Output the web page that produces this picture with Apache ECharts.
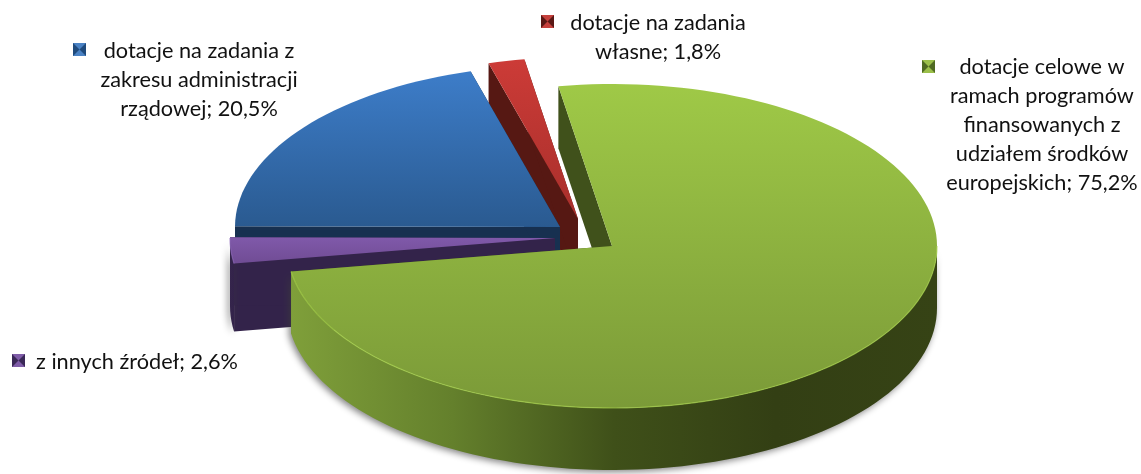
<!DOCTYPE html>
<html>
<head>
<meta charset="utf-8">
<title>dotacje</title>
<style>
html, body { margin: 0; padding: 0; background: #fff; }
#main { width: 1141px; height: 474px; }
</style>
<script src="https://cdn.jsdelivr.net/npm/echarts@6/dist/echarts.min.js"></script>
</head>
<body>
<div id="main"></div>
<script>
// dane, kolejnosc jak na kole (zgodnie z ruchem wskazowek)
var categories = [
    'dotacje celowe w\nramach programów\nfinansowanych z\nudziałem środków\neuropejskich',
    'z innych źródeł',
    'dotacje na zadania z\nzakresu administracji\nrządowej',
    'dotacje na zadania\nwłasne'
];
var values = [75.2, 2.6, 20.5, 1.8];

var myChart = echarts.init(document.getElementById('main'));

var startAngle = 350.5;
var rx = 325, ry = 162;
var total = values.reduce(function (a, b) { return a + b; }, 0);

// wyglad kazdego kawalka: srodek po wysunieciu, grubosc i kolory
var looks = [
    { cx: 612, cy: 246, depth: 62, top: ['#9fc947', '#7b9a38'], wall: '#40511b', rim: '#a5d04a',
      side: ['#7f9f3a', '#64802c', '#3f5019', '#333f14', '#364315'], key: ['#9bbf4a', '#4f6a22'] },
    { cx: 555, cy: 238, depth: 68, top: ['#8059aa', '#704c94'], wall: '#33234a', rim: '#8f69ba',
      side: ['#35254c', '#33234a'], key: ['#7f5ca8', '#3a2857'] },
    { cx: 560, cy: 227, depth: 62, top: ['#3d7dc9', '#2a5a90'], wall: '#173050', rim: '#3d7dc9',
      side: ['#173050', '#173050'], key: ['#4a82c4', '#1f4a7c'] },
    { cx: 578, cy: 219, depth: 62, top: ['#cc3b37', '#a82f2b'], wall: '#561813', rim: '#cc3b37',
      side: ['#561813', '#561813'], key: ['#c5403c', '#5a1815'] }
];

// rysujemy od tylu: czerwony, niebieski, fioletowy, zielony
var drawOrder = [3, 2, 1, 0];

function sliceAngles(i) {
    var a = startAngle;
    for (var k = 0; k < i; k++) {
        a += values[k] / total * 360;
    }
    return [a, a + values[i] / total * 360];
}

function pt(look, deg, dy) {
    var r = deg * Math.PI / 180;
    return [look.cx + Math.sin(r) * rx, look.cy - Math.cos(r) * ry + (dy || 0)];
}

function arcPoints(look, a0, a1, dy) {
    var pts = [];
    var n = Math.max(2, Math.ceil(Math.abs(a1 - a0) / 2));
    for (var i = 0; i <= n; i++) {
        pts.push(pt(look, a0 + (a1 - a0) * i / n, dy));
    }
    return pts;
}

function gradV(c) {
    return new echarts.graphic.LinearGradient(0, 0, 0, 1, [
        { offset: 0, color: c[0] }, { offset: 1, color: c[1] }
    ]);
}

function gradH(c) {
    return new echarts.graphic.LinearGradient(0, 0, 1, 0, c.map(function (col, i) {
        return { offset: i / (c.length - 1), color: col };
    }));
}

function renderItem(params, api) {
    var i = drawOrder[params.dataIndex];
    var look = looks[i];
    var depth = look.depth;
    var ang = sliceAngles(i);
    var a0 = ang[0], a1 = ang[1];
    var apex = [look.cx, look.cy];
    var apexLow = [look.cx, look.cy + depth];
    var children = [];

    // sciana promienia na poczatku kawalka
    children.push({
        type: 'polygon',
        shape: { points: [apex, pt(look, a0), pt(look, a0, depth), apexLow] },
        style: { fill: look.wall }
    });
    // sciana promienia na koncu kawalka
    children.push({
        type: 'polygon',
        shape: { points: [apex, pt(look, a1), pt(look, a1, depth), apexLow] },
        style: { fill: look.wall }
    });

    // zewnetrzna sciana, widoczna tylko w dolnej polowie elipsy (katy liczone od startAngle, wiec +360)
    var lo = Math.max(a0, 450), hi = Math.min(a1, 630);
    if (hi > lo) {
        var upper = arcPoints(look, lo, hi, 0);
        var lower = arcPoints(look, hi, lo, depth);
        children.push({
            type: 'polygon',
            shape: { points: upper.concat(lower) },
            style: {
                fill: gradH(look.side),
                shadowBlur: 7,
                shadowColor: 'rgba(60,60,60,0.65)',
                shadowOffsetX: -2,
                shadowOffsetY: 2
            }
        });
    }

    // wierzch
    children.push({
        type: 'polygon',
        shape: { points: [apex].concat(arcPoints(look, a0, a1, 0)) },
        style: { fill: gradV(look.top) }
    });

    // jasna krawedz wierzchu
    if (hi > lo) {
        children.push({
            type: 'polyline',
            shape: { points: arcPoints(look, lo, hi, 0) },
            style: { fill: null, stroke: look.rim, lineWidth: 1.2, opacity: 0.7 }
        });
    }

    return { type: 'group', children: children };
}

// opisy: pozycja tekstu i kwadracika
var labelPlaces = [
    { x: 1042, y: 53, key: [922, 60] },
    { x: 137, y: 348, key: [12, 354] },
    { x: 199, y: 37, key: [73, 43] },
    { x: 658, y: 9, key: [541, 15] }
];

function labelText(i) {
    return categories[i] + '; ' + String(values[i]).replace('.', ',') + '%';
}

function keyElements(i) {
    var p = labelPlaces[i].key, s = 13, c = looks[i].key;
    return [{
        type: 'rect',
        shape: { x: p[0], y: p[1], width: s, height: s },
        style: { fill: c[0] }
    }, {
        type: 'polygon',
        shape: { points: [[p[0], p[1]], [p[0] + s / 2, p[1] + s / 2], [p[0], p[1] + s]] },
        style: { fill: c[1] }
    }, {
        type: 'polygon',
        shape: { points: [[p[0] + s, p[1]], [p[0] + s / 2, p[1] + s / 2], [p[0] + s, p[1] + s]] },
        style: { fill: c[1] }
    }];
}

var labelElements = [];
categories.forEach(function (c, i) {
    labelElements = labelElements.concat(keyElements(i));
    labelElements.push({
        type: 'text',
        x: labelPlaces[i].x,
        y: labelPlaces[i].y,
        style: {
            text: labelText(i),
            fill: '#111',
            font: '21.7px Lato',
            align: 'center',
            verticalAlign: 'top',
            lineHeight: 29
        }
    });
});

var option = {
    backgroundColor: '#fff',
    animation: false,
    graphic: { elements: labelElements },
    series: [{
        type: 'custom',
        coordinateSystem: 'none',
        silent: true,
        renderItem: renderItem,
        data: drawOrder.map(function (i) { return values[i]; })
    }]
};

myChart.setOption(option);
window.onresize = function () {
    myChart.resize();
};
</script>
</body>
</html>
